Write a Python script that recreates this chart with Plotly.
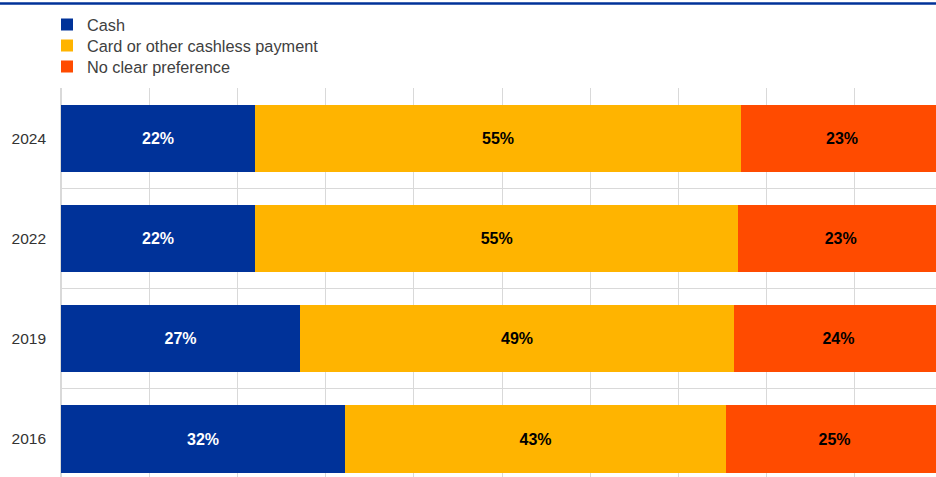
import plotly.graph_objects as go

years = ["2016", "2019", "2022", "2024"]
cash = [32.2, 27.1, 22.0, 22.0]
card = [43.2, 49.2, 54.8, 55.1]
no_pref = [24.6, 23.7, 23.2, 22.9]
series_names = ["Cash", "Card or other cashless payment", "No clear preference"]
colors = ["#003299", "#FFB400", "#FF4B00"]
text_colors = ["white", "black", "black"]

W, H = 936, 477
L, T = 61, 88
plot_w = W - L
plot_h = H - T
px_per_pct = 8.82
px_per_cat = 100.3

fig = go.Figure()
ypos = list(range(len(years)))
legend_ids = ["legend", "legend2", "legend3"]
for name, vals, col, tc, lg in zip(series_names, [cash, card, no_pref], colors, text_colors, legend_ids):
    fig.add_trace(go.Bar(
        y=ypos, x=vals, name=name, orientation="h",
        marker=dict(color=col, line=dict(width=0)),
        width=0.67,
        texttemplate="%{x:.0f}%", textposition="inside",
        insidetextanchor="middle", textangle=0, constraintext="none",
        textfont=dict(family="Liberation Sans, Arial, sans-serif",
                      size=16, color=tc, weight="bold"),
        hoverinfo="skip",
        legend=lg,
    ))

x_max = plot_w / px_per_pct
y_min = 3.5 - plot_h / px_per_cat


def legend_at(center_y):
    return dict(
        orientation="v",
        x=(47 - L) / plot_w, xanchor="left",
        y=1 + (T - center_y) / plot_h, yanchor="middle",
        font=dict(size=16.3, color="#404040"),
        bgcolor="rgba(0,0,0,0)", borderwidth=0,
        itemclick=False, itemdoubleclick=False,
    )


fig.update_layout(
    width=W, height=H,
    margin=dict(l=L, r=0, t=T, b=0, pad=0),
    barmode="stack",
    plot_bgcolor="white", paper_bgcolor="white",
    font=dict(family="Liberation Sans, Arial, sans-serif", size=15, color="#333333"),
    showlegend=True,
    legend=legend_at(25),
    legend2=legend_at(46),
    legend3=legend_at(67),
    xaxis=dict(
        range=[0, x_max], dtick=10, tick0=0,
        showgrid=True, gridcolor="#d9d9d9", gridwidth=1,
        showticklabels=False, zeroline=True, zerolinecolor="#d9d9d9",
        showline=False, ticks="", fixedrange=True,
    ),
    yaxis=dict(
        range=[y_min, 3.5],
        tickvals=ypos, ticktext=years,
        showgrid=False, zeroline=False, showline=False,
        ticks="", ticklabelstandoff=14,
        minor=dict(tick0=-0.5, dtick=1, showgrid=True, gridcolor="#d9d9d9", gridwidth=1, ticks=""),
        tickfont=dict(size=15.5, color="#333333"),
        fixedrange=True,
    ),
    shapes=[dict(
        type="line", xref="paper", yref="paper",
        x0=-L / plot_w, x1=1, y0=1 + (T - 3.5) / plot_h, y1=1 + (T - 3.5) / plot_h,
        line=dict(color="#003299", width=2.5),
    )],
)

fig.write_html(
    "out.html",
    config={"displayModeBar": False},
    post_script="document.body.style.margin='0';document.body.style.padding='0';document.body.style.overflow='hidden';",
)
